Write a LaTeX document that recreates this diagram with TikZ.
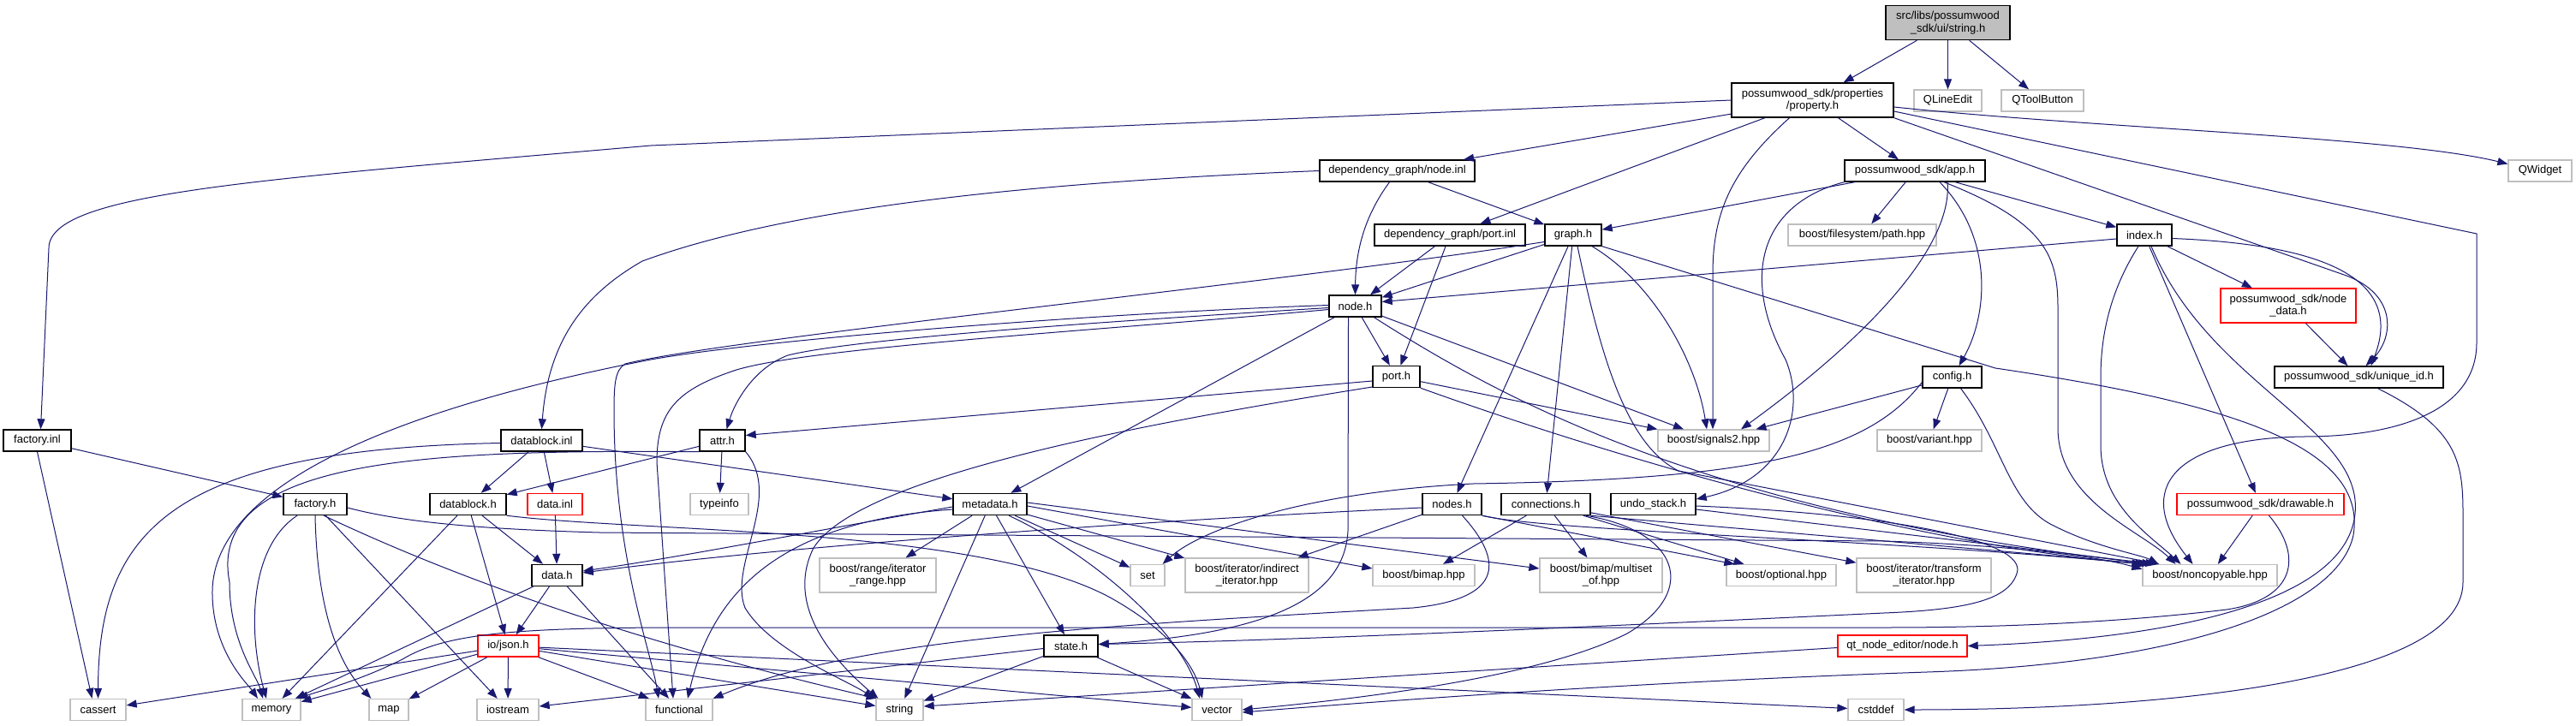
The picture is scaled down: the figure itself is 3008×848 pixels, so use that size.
\documentclass[tikz,border=0pt]{standalone}
\usepackage{fontspec}
\setmainfont{Liberation Sans}
\usetikzlibrary{arrows.meta}
\definecolor{edgeblue}{HTML}{191970}
\definecolor{boxgray}{HTML}{BFBFBF}
\tikzset{
  hdr/.style={rectangle, draw=black, line width=1.4pt, fill=white, inner sep=0pt, minimum height=25pt, align=center, font=\fontsize{13}{14.5}\selectfont},
  sys/.style={hdr, draw=boxgray, line width=1.3pt},
  trn/.style={hdr, draw=red},
  root/.style={hdr, fill=boxgray},
  two/.style={minimum height=40pt},
  inc/.style={->, >={Triangle[length=12pt, width=9pt]}, draw=edgeblue, line width=1pt}
}
\begin{document}
\begin{tikzpicture}[x=1pt, y=-1pt]
		\path[fill=white] (0,0) rectangle (3008,848);
		\useasboundingbox (0,0) rectangle (3008,848);
		% headers, row by row
		\node[root, two, minimum width=145pt] (str) at (2274.5,26.5) {src/libs/possumwood\\\_sdk/ui/string.h};
		\node[hdr, two, minimum width=189pt] (prop) at (2116.5,117) {possumwood\_sdk/properties\\/property.h};
		\node[sys, minimum width=79pt] (qle) at (2274.5,117.5) {QLineEdit};
		\node[sys, minimum width=96pt] (qtb) at (2385,117.5) {QToolButton};
		\node[hdr, minimum width=181pt] (ninl) at (1631.5,199.5) {dependency\_graph/node.inl};
		\node[hdr, minimum width=164pt] (app) at (2236,199.5) {possumwood\_sdk/app.h};
		\node[sys, minimum width=74pt] (qw) at (2966,199.5) {QWidget};
		\node[hdr, minimum width=176pt] (pinl) at (1693,274.5) {dependency\_graph/port.inl};
		\node[hdr, minimum width=66pt] (graph) at (1837,274.5) {graph.h};
		\node[sys, minimum width=173pt] (path) at (2174.5,274.5) {boost/filesystem/path.hpp};
		\node[hdr, minimum width=64pt] (index) at (2504,274.5) {index.h};
		\node[hdr, minimum width=61pt] (nodeh) at (1582.5,357.5) {node.h};
		\node[trn, two, minimum width=158pt] (ndata) at (2672,357) {possumwood\_sdk/node\\\_data.h};
		\node[hdr, minimum width=55pt] (porth) at (1630.5,440) {port.h};
		\node[hdr, minimum width=69pt] (config) at (2279.5,440.5) {config.h};
		\node[hdr, minimum width=197pt] (uid) at (2754.5,440.5) {possumwood\_sdk/unique\_id.h};
		\node[hdr, minimum width=79pt] (finl) at (43.5,514.5) {factory.inl};
		\node[hdr, minimum width=95pt] (dbinl) at (632.5,514.5) {datablock.inl};
		\node[hdr, minimum width=53pt] (attr) at (843.5,514.5) {attr.h};
		\node[sys, minimum width=130pt] (sig) at (2001,514.5) {boost/signals2.hpp};
		\node[sys, minimum width=122pt] (var) at (2253,514.5) {boost/variant.hpp};
		\node[hdr, minimum width=74pt] (facth) at (368,589) {factory.h};
		\node[hdr, minimum width=89pt] (dbh) at (546.5,589) {datablock.h};
		\node[trn, minimum width=64pt] (dinl) at (648,589) {data.inl};
		\node[sys, minimum width=68pt] (tinfo) at (840,589) {typeinfo};
		\node[hdr, minimum width=86pt] (meta) at (1156,589) {metadata.h};
		\node[hdr, minimum width=69pt] (nodes) at (1695.5,589) {nodes.h};
		\node[hdr, minimum width=104pt] (conn) at (1805,589) {connections.h};
		\node[hdr, minimum width=99pt] (undo) at (1930.5,589) {undo\_stack.h};
		\node[trn, minimum width=195pt] (draw) at (2639.5,589) {possumwood\_sdk/drawable.h};
		\node[hdr, minimum width=59pt] (datah) at (650.5,672) {data.h};
		\node[sys, two, minimum width=136pt] (irange) at (1025,672) {boost/range/iterator\\\_range.hpp};
		\node[sys, minimum width=40pt] (sset) at (1340,672) {set};
		\node[sys, two, minimum width=144pt] (indir) at (1456,672) {boost/iterator/indirect\\\_iterator.hpp};
		\node[sys, minimum width=119pt] (bimap) at (1662.5,672) {boost/bimap.hpp};
		\node[sys, two, minimum width=143pt] (mset) at (1869.5,672) {boost/bimap/multiset\\\_of.hpp};
		\node[sys, minimum width=128pt] (opt) at (2080,672) {boost/optional.hpp};
		\node[sys, two, minimum width=157pt] (trans) at (2246.5,672) {boost/iterator/transform\\\_iterator.hpp};
		\node[sys, minimum width=157pt] (nonc) at (2580.5,672) {boost/noncopyable.hpp};
		\node[trn, minimum width=71pt] (json) at (593.5,754.5) {io/json.h};
		\node[hdr, minimum width=63pt] (state) at (1250.5,754.5) {state.h};
		\node[trn, minimum width=151pt] (qtn) at (2221.5,754.5) {qt\_node\_editor/node.h};
		\node[sys, minimum width=65pt] (cass) at (114.5,829) {cassert};
		\node[sys, minimum width=68pt] (mem) at (317,829) {memory};
		\node[sys, minimum width=46pt] (smap) at (454,829) {map};
		\node[sys, minimum width=72pt] (ios) at (593,829) {iostream};
		\node[sys, minimum width=78pt] (func) at (793,829) {functional};
		\node[sys, minimum width=55pt] (sstr) at (1050.5,829) {string};
		\node[sys, minimum width=58pt] (svec) at (1421,829) {vector};
		\node[sys, minimum width=65pt] (cstd) at (2190.5,829) {cstddef};
		% string.h and property.h
		\draw[inc] (str) -- (prop); \draw[inc] (str) -- (qle); \draw[inc] (str) -- (qtb);
		\draw[inc] (prop.west) -- (760,170) .. controls (300,210) and (57,225) .. (57,290) -- ([xshift=4pt]finl.north);
		\draw[inc] (prop) -- (ninl); \draw[inc] (prop) -- (pinl); \draw[inc] (prop) -- (app);
		\draw[inc] ([xshift=-27pt]prop.south) .. controls (2020,200) and (2000,250) .. (2000,320) -- ([xshift=-1pt]sig.north);
		\draw[inc] ([yshift=-8pt]prop.east) .. controls (2450,150) and (2800,160) .. ([yshift=8pt]qw.west);
		\draw[inc] (prop.south east) -- (2740,322) .. controls (2800,345) and (2795,395) .. ([xshift=8pt]uid.north);
		\draw[inc] ([yshift=-13pt]prop.east) -- (2892,273) -- (2892,400) .. controls (2892,480) and (2800,510) .. (2690,510) .. controls (2540,512) and (2490,570) .. ([xshift=-20pt]nonc.north);
		% node.inl, app.h, port.inl
		\draw[inc] (ninl.west) .. controls (1150,215) and (900,250) .. (750,305) .. controls (680,345) and (640,400) .. (dbinl.north);
		\draw[inc] ([xshift=-9pt]ninl.south) .. controls (1595,250) and (1583,290) .. (nodeh.north);
		\draw[inc] (ninl) -- (graph);
		\draw[inc] (app) -- (graph); \draw[inc] (app) -- (path); \draw[inc] (app) -- (index);
		\draw[inc] ([xshift=38pt]app.south) .. controls (2280,280) and (2200,380) .. ([xshift=32pt]sig.north);
		\draw[inc] ([xshift=29pt]app.south) .. controls (2330,280) and (2320,370) .. ([xshift=8pt]config.north);
		\draw[inc] (app.south west) .. controls (2050,240) and (2035,330) .. (2085,420) .. controls (2110,480) and (2085,560) .. ([yshift=6pt]undo.east);
		\draw[inc] ([xshift=34pt]app.south) .. controls (2390,260) and (2403,300) .. (2403,360) -- (2403,500) .. controls (2403,585) and (2500,620) .. ([xshift=-40pt]nonc.north);
		\draw[inc] (pinl) -- (nodeh); \draw[inc] (pinl) -- (porth);
		% graph.h
		\draw[inc] (graph) -- (nodeh); \draw[inc] (graph) -- (nodes); \draw[inc] (graph) -- (conn);
		\draw[inc] ([xshift=22pt]graph.south) .. controls (1930,330) and (1980,420) .. ([xshift=-8pt]sig.north);
		\draw[inc] ([xshift=5pt]graph.south) .. controls (1870,420) and (1900,520) .. (1960,550) -- ([xshift=20pt]nonc.north west);
		\draw[inc] ([yshift=-8pt]graph.west) .. controls (1500,330) and (850,395) .. (730,425) .. controls (718,432) and (717,450) .. (717,480) .. controls (717,650) and (760,760) .. ([xshift=-24pt]func.north);
		\draw[inc] (graph.south east) -- (2330,430) .. controls (2600,470) and (2765,520) .. (2748,625) .. controls (2730,710) and (2550,775) .. (2250,785) .. controls (1900,797) and (1600,820) .. ([yshift=-3pt]svec.east);
		% index.h
		\draw[inc] ([yshift=-4.5pt]index.west) -- ([yshift=5pt]nodeh.east);
		\draw[inc] (index) -- (ndata); \draw[inc] (index) -- (draw);
		\draw[inc] ([yshift=-4pt]index.east) .. controls (2700,285) and (2810,320) .. ([xshift=14pt]uid.north);
		\draw[inc] ([xshift=-7pt]index.south) .. controls (2470,330) and (2453,380) .. (2453,440) -- (2453,520) .. controls (2453,590) and (2510,625) .. ([xshift=-34pt]nonc.north);
		\draw[inc] ([xshift=8pt]index.south) .. controls (2580,450) and (2760,500) .. (2750,600) .. controls (2740,700) and (2550,745) .. (qtn.east);
		\draw[inc] (ndata) -- (uid);
		\draw[inc] ([xshift=22pt]uid.south) .. controls (2870,500) and (2876,540) .. (2876,600) -- (2876,680) .. controls (2876,800) and (2500,829) .. (cstd.east);
		% config.h
		\draw[inc] (config) -- (sig); \draw[inc] (config) -- (var);
		\draw[inc] ([yshift=-6pt]config.west) .. controls (2180,530) and (2050,560) .. (1720,565) .. controls (1520,575) and (1400,620) .. ([xshift=-3pt]sset.north east);
		\draw[inc] ([xshift=10pt]config.south) .. controls (2340,520) and (2345,590) .. (2400,615) .. controls (2450,640) and (2500,648) .. ([xshift=-60pt]nonc.north);
		% port.h and node.h
		\draw[inc] ([yshift=-5pt]porth.west) -- ([yshift=6pt]attr.east);
		\draw[inc] ([yshift=-12pt]porth.west) .. controls (1300,500) and (1000,560) .. (950,640) .. controls (920,700) and (960,760) .. ([xshift=-25pt]sstr.north);
		\draw[inc] (porth) -- (sig);
		\draw[inc] (porth.south east) .. controls (1900,540) and (2250,640) .. ([xshift=8pt]nonc.north west);
		\draw[inc] (nodeh) -- (porth); \draw[inc] (nodeh) -- (meta); \draw[inc] (nodeh) -- (sig);
		\draw[inc] ([yshift=-2pt]nodeh.west) .. controls (1300,375) and (1000,395) .. (920,415) .. controls (880,430) and (858,470) .. ([xshift=5pt]attr.north);
		\draw[inc] ([yshift=-4pt]nodeh.west) .. controls (1300,385) and (950,405) .. (860,432) .. controls (790,455) and (767,480) .. (767,540) -- ([xshift=-7pt]func.north);
		\draw[inc] ([yshift=1pt]nodeh.west) .. controls (1300,365) and (900,395) .. (760,420) .. controls (450,480) and (250,570) .. (248,690) .. controls (247,760) and (290,800) .. ([xshift=-16pt]mem.north);
		\draw[inc] ([xshift=22pt]nodeh.south) .. controls (1760,470) and (2000,600) .. ([xshift=12pt]nonc.north west);
		\draw[inc] ([xshift=-8pt]nodeh.south) -- (1574,620) .. controls (1570,700) and (1480,740) .. ([yshift=2pt]state.east);
		% nodes.h, connections.h, undo_stack.h
		\draw[inc] ([yshift=-4pt]nodes.west) .. controls (1300,610) and (900,640) .. ([yshift=3pt]datah.east);
		\draw[inc] (nodes) -- (indir);
		\draw[inc] (nodes.south east) -- ([xshift=10pt]opt.north west);
		\draw[inc] ([xshift=12pt]nodes.south) .. controls (1760,660) and (1750,700) .. (1650,710) .. controls (1300,730) and (1000,745) .. (func.north east);
		\draw[inc] (nodes.south east) .. controls (1800,620) and (2200,630) .. (nonc.north west);
		\draw[inc] (conn) -- (bimap); \draw[inc] (conn) -- (mset); \draw[inc] (conn) -- (opt); \draw[inc] (conn) -- (trans);
		\draw[inc] (conn.south east) .. controls (2000,615) and (2300,640) .. ([xshift=4pt]nonc.north west);
		\draw[inc] ([xshift=-6pt]conn.south east) .. controls (1960,620) and (1985,690) .. (1900,740) .. controls (1800,790) and (1600,815) .. (svec.east);
		\draw[inc] ([yshift=-6pt]undo.east) -- ([xshift=16pt]nonc.north west);
		\draw[inc] ([yshift=-2pt]undo.east) .. controls (2200,600) and (2370,630) .. (2355,670) .. controls (2345,700) and (2300,712) .. (2200,716) .. controls (1800,735) and (1500,748) .. ([yshift=2pt]state.east);
		% drawable.h, qt_node_editor/node.h
		\draw[inc] (draw) -- (nonc);
		\draw[inc] ([xshift=10pt]draw.south) .. controls (2690,650) and (2680,700) .. (2600,712) .. controls (2450,730) and (2300,733) .. (2200,733) -- (800,733) .. controls (600,733) and (520,740) .. (470,770) .. controls (420,795) and (380,805) .. ([xshift=-4pt]mem.north east);
		\draw[inc] ([yshift=-2pt]qtn.west) -- ([yshift=4pt]sstr.east);
		% datablock.inl, factory.inl, factory.h
		\draw[inc] (dbinl) -- (dbh); \draw[inc] (dbinl) -- (dinl); \draw[inc] (dbinl) -- (meta);
		\draw[inc] ([yshift=-3pt]dbinl.west) .. controls (200,525) and (115,620) .. (cass.north);
		\draw[inc] (finl) -- (facth);
		\draw[inc] (finl.south) -- ([xshift=-7pt]cass.north);
		\draw[inc] ([xshift=-21pt]facth.south) .. controls (290,640) and (290,740) .. ([xshift=-6pt]mem.north);
		\draw[inc] (facth.south) .. controls (370,700) and (390,770) .. ([xshift=3pt]smap.north west);
		\draw[inc] (facth) -- (ios);
		\draw[inc] ([xshift=10pt]facth.south) .. controls (500,660) and (700,740) .. ([xshift=-27pt]sstr.north);
		\draw[inc] ([yshift=-4pt]facth.east) .. controls (470,610) and (560,618) .. (700,622) -- (2200,632) .. controls (2350,637) and (2450,650) .. ([yshift=-6pt]nonc.north west);
		% datablock.h, data.h, io/json.h, state.h
		\draw[inc] (dbh) -- (datah); \draw[inc] (dbh) -- (json); \draw[inc] (dbh) -- (mem);
		\draw[inc] (dbh.south east) .. controls (750,622) and (1150,615) .. (1300,700) .. controls (1370,740) and (1395,780) .. ([xshift=-17pt]svec.north);
		\draw[inc] (dinl) -- (datah);
		\draw[inc] (datah) -- (json); \draw[inc] (datah) -- (mem); \draw[inc] (datah) -- (func);
		\draw[inc] (json) -- (cass); \draw[inc] (json) -- (mem); \draw[inc] (json) -- (smap); \draw[inc] (json) -- (ios);
		\draw[inc] (json) -- (func); \draw[inc] (json) -- (sstr); \draw[inc] (json) -- (svec); \draw[inc] (json) -- (cstd);
		\draw[inc] ([yshift=-3pt]state.west) -- ([yshift=4pt]ios.east);
		\draw[inc] (state) -- (sstr); \draw[inc] (state) -- (svec);
		% attr.h, metadata.h
		\draw[inc] (attr) -- (dbh); \draw[inc] (attr) -- (tinfo);
		\draw[inc] (attr.south west) .. controls (500,525) and (240,535) .. (268,680) .. controls (268,750) and (300,790) .. ([xshift=-10pt]mem.north);
		\draw[inc] (attr.south east) .. controls (915,580) and (850,660) .. (870,710) .. controls (900,760) and (990,795) .. ([xshift=-30pt]sstr.north);
		\draw[inc] (meta) -- (irange); \draw[inc] (meta) -- (sset); \draw[inc] (meta) -- (indir);
		\draw[inc] ([yshift=-2pt]meta.east) -- ([yshift=8pt]bimap.west);
		\draw[inc] ([yshift=2pt]meta.east) -- ([yshift=8pt]mset.west);
		\draw[inc] (meta) -- (sstr); \draw[inc] (meta) -- (state);
		\draw[inc] ([xshift=22pt]meta.south) .. controls (1280,650) and (1380,740) .. ([xshift=-20pt]svec.north);
		\draw[inc] ([yshift=-3pt]meta.west) .. controls (950,620) and (800,650) .. ([yshift=5pt]datah.east);
		\draw[inc] ([yshift=-6pt]meta.west) .. controls (900,610) and (830,700) .. ([xshift=10pt]func.north);
	\end{tikzpicture}
\end{document}
